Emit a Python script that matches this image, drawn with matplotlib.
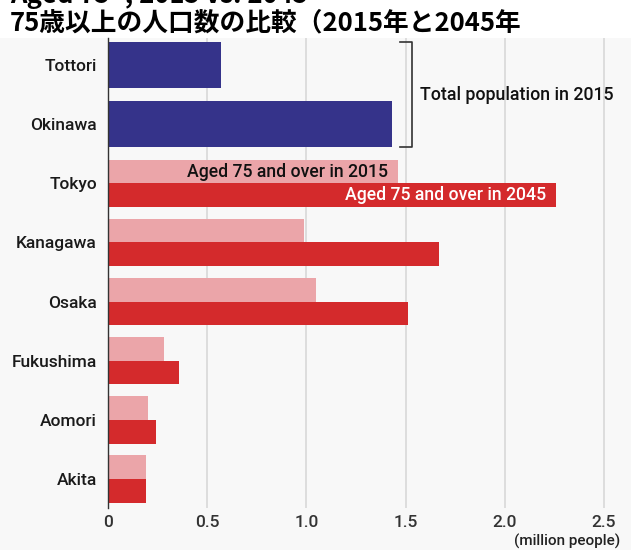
import numpy as np
import matplotlib
matplotlib.use("Agg")
from matplotlib import pyplot as plt
from matplotlib.patches import Rectangle

# population figures, million people
prefectures = ["Tottori", "Okinawa", "Tokyo", "Kanagawa", "Osaka",
               "Fukushima", "Aomori", "Akita"]
total_2015 = {"Tottori": 0.57, "Okinawa": 1.43}
aged75_2015 = {"Tokyo": 1.46, "Kanagawa": 0.99, "Osaka": 1.05,
               "Fukushima": 0.28, "Aomori": 0.20, "Akita": 0.19}
aged75_2045 = {"Tokyo": 2.26, "Kanagawa": 1.67, "Osaka": 1.51,
               "Fukushima": 0.36, "Aomori": 0.24, "Akita": 0.19}
xticks = [0, 0.5, 1.0, 1.5, 2.0, 2.5]
xtick_labels = ["0", "0.5", "1.0", "1.5", "2.0", "2.5"]

BLUE = "#35338a"
RED = "#d42a2c"
PINK = "#eba5a9"
BG = "#f8f8f8"

plt.rcParams["font.family"] = ["Roboto", "DejaVu Sans"]
plt.rcParams["font.weight"] = "medium"

fig = plt.figure(figsize=(6.31, 5.5), dpi=100)
fig.patch.set_facecolor("white")
fig.patches.append(Rectangle((0, 0), 1, 1 - 38 / 550, transform=fig.transFigure,
                             facecolor=BG, edgecolor="none", zorder=-10))

ax = fig.add_axes([108 / 631, 1 - 508 / 550, 512 / 631, 470 / 550])
ax.set_facecolor("none")

ypos = {name: i for i, name in enumerate(prefectures)}

for name, val in total_2015.items():
    ax.barh(ypos[name], val, height=0.78, color=BLUE, zorder=3)
for name, val in aged75_2015.items():
    ax.barh(ypos[name] - 0.2, val, height=0.4, color=PINK, zorder=3)
for name, val in aged75_2045.items():
    ax.barh(ypos[name] + 0.2, val, height=0.4, color=RED, zorder=3)

ax.set_xlim(0, 2.58)
ax.set_ylim(7.49, -0.457)
ax.set_yticks(range(len(prefectures)))
ax.set_yticklabels(prefectures, fontsize=12.5, color="#1a1a1a")
ax.set_xticks(xticks)
ax.set_xticklabels(xtick_labels, fontsize=12.5, color="#333333")
ax.tick_params(axis="both", length=0)
ax.tick_params(axis="y", pad=8)
ax.tick_params(axis="x", pad=5)
for tick in xticks[1:]:
    ax.axvline(tick, color="#d8d8d8", lw=1.2, zorder=1)
for side in ["top", "right", "bottom"]:
    ax.spines[side].set_visible(False)
ax.spines["left"].set_color("#333333")
ax.spines["left"].set_linewidth(1.0)
ax.spines["left"].set_zorder(4)

# bracket around the two total-population bars
bx = 1.53
y_top = ypos["Tottori"] - 0.39
y_bot = ypos["Okinawa"] + 0.39
ax.plot([bx - 0.06, bx, bx, bx - 0.06], [y_top, y_top, y_bot, y_bot],
        color="#333333", lw=1.2, zorder=4, clip_on=False)
ax.text(1.57, (ypos["Tottori"] + ypos["Okinawa"]) / 2, "Total population in 2015",
        fontsize=12.8, va="center", ha="left", color="#111111")

ax.text(aged75_2015["Tokyo"] - 0.05, ypos["Tokyo"] - 0.19, "Aged 75 and over in 2015",
        fontsize=12.7, va="center", ha="right", color="#111111", zorder=5)
ax.text(aged75_2045["Tokyo"] - 0.05, ypos["Tokyo"] + 0.2, "Aged 75 and over in 2045",
        fontsize=12.7, va="center", ha="right", color="white", zorder=5)

fig.text(620 / 631, 1 - 549 / 550, "(million people)", fontsize=11,
         ha="right", va="bottom", color="#222222")

# headline, first line partly above the canvas
fig.text(10 / 631, 1 - 3 / 550, "Aged 75+, 2015 vs. 2045", fontsize=18.5,
         fontweight="bold", ha="left", va="baseline",
         family=["Noto Sans CJK JP", "DejaVu Sans"])
fig.text(10 / 631, 1 - 30 / 550, "75歳以上の人口数の比較（2015年と2045年", fontsize=18.5,
         fontweight="bold", ha="left", va="baseline",
         family=["Noto Sans CJK JP", "DejaVu Sans"])

fig.savefig("out.png", dpi=100, facecolor=fig.get_facecolor())
